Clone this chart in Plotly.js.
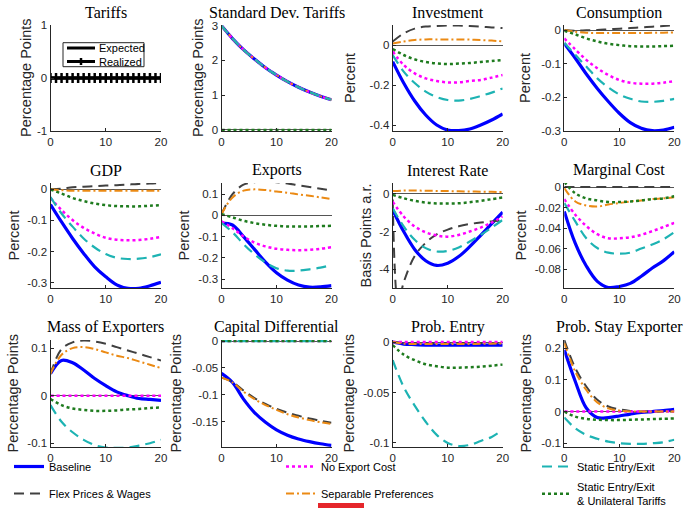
<!DOCTYPE html>
<html><head><meta charset="utf-8">
<script src="https://cdn.plot.ly/plotly-3.0.1.min.js"></script>
<style>html,body{margin:0;padding:0;background:#fff}#chart{width:693px;height:508px}</style>
</head><body><div id="chart"></div><script>
// ---------- DATA ----------
const periods = [0,2,4,6,8,10,12,14,16,18,20];
const tariffPeriods = [0,1,2,3,4,5,6,7,8,9,10,11,12,13,14,15,16,17,18,19,20];
const tariffExpected = [0,0,0,0,0,0,0,0,0,0,0,0,0,0,0,0,0,0,0,0,0];
const tariffRealized = [0,0,0,0,0,0,0,0,0,0,0,0,0,0,0,0,0,0,0,0,0];

const seriesNames = ['Baseline','Flex Prices & Wages','No Export Cost','Separable Preferences','Static Entry/Exit','Static Entry/Exit<br>& Unilateral Tariffs'];
// series order in every panel: baseline, flex, noExport, separable, static, staticUni
const stdDev = [
  [3.0,2.63,2.31,2.04,1.79,1.58,1.39,1.23,1.09,0.97,0.87],
  [3.0,2.63,2.31,2.04,1.79,1.58,1.39,1.23,1.09,0.97,0.87],
  [3.0,2.63,2.31,2.04,1.79,1.58,1.39,1.23,1.09,0.97,0.87],
  [3.0,2.63,2.31,2.04,1.79,1.58,1.39,1.23,1.09,0.97,0.87],
  [3.0,2.63,2.31,2.04,1.79,1.58,1.39,1.23,1.09,0.97,0.87],
  [0,0,0,0,0,0,0,0,0,0,0]
];
const investment = [
  [-0.083,-0.19,-0.28,-0.35,-0.40,-0.425,-0.428,-0.42,-0.40,-0.375,-0.345],
  [0.017,0.058,0.082,0.092,0.095,0.097,0.097,0.095,0.092,0.088,0.085],
  [-0.033,-0.10,-0.142,-0.167,-0.18,-0.187,-0.187,-0.18,-0.175,-0.163,-0.15],
  [0.008,0.017,0.025,0.028,0.028,0.028,0.028,0.027,0.025,0.022,0.018],
  [-0.05,-0.133,-0.19,-0.233,-0.26,-0.275,-0.278,-0.27,-0.255,-0.238,-0.217],
  [-0.02,-0.05,-0.072,-0.085,-0.092,-0.095,-0.093,-0.09,-0.085,-0.08,-0.075]
];
const consumption = [
  [-0.04,-0.084,-0.131,-0.174,-0.213,-0.248,-0.276,-0.293,-0.30,-0.298,-0.29],
  [0,-0.002,-0.001,0.0,0.002,0.004,0.006,0.008,0.01,0.012,0.014],
  [-0.025,-0.058,-0.089,-0.114,-0.134,-0.149,-0.157,-0.16,-0.16,-0.157,-0.152],
  [0,-0.005,-0.008,-0.009,-0.009,-0.009,-0.009,-0.009,-0.008,-0.008,-0.007],
  [-0.038,-0.074,-0.109,-0.144,-0.171,-0.192,-0.205,-0.213,-0.214,-0.211,-0.205],
  [-0.002,-0.013,-0.025,-0.034,-0.041,-0.045,-0.048,-0.049,-0.049,-0.048,-0.047]
];
const gdp = [
  [-0.049,-0.105,-0.158,-0.206,-0.249,-0.281,-0.307,-0.318,-0.318,-0.31,-0.299],
  [0,0.002,0.006,0.008,0.01,0.012,0.013,0.015,0.017,0.018,0.02],
  [-0.028,-0.067,-0.099,-0.124,-0.142,-0.156,-0.162,-0.164,-0.163,-0.159,-0.153],
  [0,-0.003,-0.005,-0.005,-0.005,-0.005,-0.005,-0.005,-0.005,-0.005,-0.005],
  [-0.025,-0.078,-0.12,-0.158,-0.187,-0.208,-0.22,-0.224,-0.223,-0.218,-0.209],
  [-0.001,-0.014,-0.028,-0.038,-0.046,-0.051,-0.054,-0.055,-0.055,-0.053,-0.051]
];
const exportsVals = [
  [-0.036,-0.045,-0.10,-0.16,-0.22,-0.27,-0.305,-0.328,-0.338,-0.337,-0.331],
  [0.006,0.10,0.145,0.157,0.16,0.157,0.151,0.142,0.134,0.126,0.118],
  [-0.028,-0.06,-0.099,-0.128,-0.146,-0.157,-0.162,-0.164,-0.162,-0.157,-0.15],
  [0.006,0.085,0.117,0.123,0.12,0.113,0.107,0.099,0.093,0.085,0.077],
  [-0.036,-0.079,-0.135,-0.183,-0.222,-0.249,-0.26,-0.26,-0.254,-0.246,-0.233],
  [0.006,-0.009,-0.025,-0.036,-0.044,-0.049,-0.052,-0.052,-0.052,-0.05,-0.049]
];
const interestFlexPeriods = [0,1,2,4,6,8,10,12,14,16,18,20];
const interestFlex = [-0.3,-5.8,-4.7,-3.3,-2.6,-2.15,-1.9,-1.72,-1.6,-1.52,-1.46,-1.42];
const interest = [
  [-0.85,-2.0,-2.95,-3.55,-3.8,-3.68,-3.33,-2.8,-2.2,-1.58,-0.97],
  null,
  [-0.41,-1.2,-1.73,-2.04,-2.21,-2.27,-2.18,-2.0,-1.79,-1.52,-1.2],
  [0.15,0.18,0.18,0.17,0.16,0.15,0.14,0.13,0.12,0.11,0.1],
  [-0.76,-1.73,-2.44,-2.88,-3.06,-3.03,-2.85,-2.53,-2.18,-1.79,-1.38],
  [-0.05,-0.23,-0.37,-0.46,-0.51,-0.51,-0.5,-0.44,-0.37,-0.28,-0.19]
];
const marginalCost = [
  [-0.0237,-0.055,-0.077,-0.092,-0.098,-0.097,-0.094,-0.087,-0.079,-0.072,-0.063],
  [0,0,0,0,0,0,0,0,0,0,0],
  [-0.0117,-0.027,-0.038,-0.046,-0.05,-0.05,-0.049,-0.0465,-0.043,-0.039,-0.035],
  [-0.001,-0.014,-0.018,-0.019,-0.017,-0.0156,-0.014,-0.013,-0.0117,-0.011,-0.01],
  [-0.0156,-0.0335,-0.05,-0.0595,-0.064,-0.065,-0.064,-0.06,-0.056,-0.051,-0.044],
  [0.005,-0.006,-0.011,-0.013,-0.0146,-0.0146,-0.014,-0.013,-0.0117,-0.011,-0.009]
];
const massExporters = [
  [0.046,0.074,0.069,0.054,0.036,0.021,0.008,0.0,-0.006,-0.008,-0.01],
  [0.046,0.098,0.112,0.116,0.114,0.109,0.102,0.095,0.088,0.081,0.074],
  [0,0,0,0,0,0,0,0,0,0,0],
  [0.046,0.086,0.1,0.102,0.098,0.091,0.084,0.079,0.072,0.065,0.058],
  [-0.02,-0.055,-0.077,-0.093,-0.104,-0.109,-0.11,-0.109,-0.105,-0.1,-0.093],
  [-0.007,-0.02,-0.027,-0.03,-0.032,-0.032,-0.031,-0.029,-0.028,-0.026,-0.025]
];
const capitalDiff = [
  [-0.06,-0.077,-0.108,-0.133,-0.151,-0.165,-0.175,-0.182,-0.187,-0.191,-0.194],
  [-0.068,-0.076,-0.092,-0.106,-0.117,-0.126,-0.133,-0.139,-0.144,-0.148,-0.152],
  [0,0,0,0,0,0,0,0,0,0,0],
  [-0.068,-0.077,-0.094,-0.108,-0.119,-0.128,-0.136,-0.142,-0.147,-0.151,-0.154],
  [0,0,0,0,0,0,0,0,0,0,0],
  [0,0,0,0,0,0,0,0,0,0,0]
];
const probEntry = [
  [0,-0.002,-0.0026,-0.003,-0.003,-0.003,-0.003,-0.003,-0.003,-0.003,-0.003],
  [0,-0.001,-0.0012,-0.0012,-0.0012,-0.0011,-0.001,-0.001,-0.001,-0.0009,-0.0009],
  [0,0,0,0,0,0,0,0,0,0,0],
  [0,-0.0017,-0.002,-0.002,-0.002,-0.002,-0.002,-0.0019,-0.0018,-0.0016,-0.0015],
  [-0.018,-0.0446,-0.063,-0.079,-0.092,-0.1,-0.103,-0.102,-0.098,-0.094,-0.087],
  [-0.003,-0.0125,-0.018,-0.022,-0.024,-0.0254,-0.0254,-0.025,-0.0244,-0.0234,-0.0224]
];
const probStay = [
  [0.195,0.095,0.011,-0.019,-0.019,-0.014,-0.008,-0.003,0,0.003,0.007],
  [0.226,0.137,0.079,0.037,0.016,0.007,0.002,0,0,0,0],
  [0,0,0,0,0,0,0,0,0,0,0],
  [0.216,0.126,0.068,0.029,0.01,0.003,0,0,0,0,0],
  [-0.019,-0.053,-0.074,-0.086,-0.095,-0.1,-0.102,-0.102,-0.1,-0.097,-0.089],
  [0,-0.016,-0.023,-0.026,-0.027,-0.027,-0.026,-0.025,-0.024,-0.023,-0.022]
];

const xTickVals = [0,10,20];
const xTickText = ['0','10','20'];

// ---------- LAYOUT CONSTANTS ----------
const W = 693, H = 508;
const colPx = [[50.5,161],[221.5,331.5],[392.7,502.7],[564.3,674.3]];
const rowPx = [[25,131],[183,288],[340,447]];
const titleY = [13,170,327];
const px = v => v / W;
const py = v => 1 - v / H;

const panels = [
  {title:'Tariffs', ytitle:'Percentage Points', ytx:26, range:[-1,1], tv:[-1,0,1], tt:['-1','0','1'], data:null},
  {title:'Standard Dev. Tariffs', ytitle:'Percentage Points', ytx:198, range:[-0.03,3.02], tv:[0,1,2,3], tt:['0','1','2','3'], data:stdDev},
  {title:'Investment', ytitle:'Percent', ytx:350, range:[-0.43,0.1], tv:[-0.4,-0.2,0], tt:['-0.4','-0.2','0'], data:investment},
  {title:'Consumption', ytitle:'Percent', ytx:525, range:[-0.301,0.015], tv:[-0.3,-0.2,-0.1,0], tt:['-0.3','-0.2','-0.1','0'], data:consumption},
  {title:'GDP', ytitle:'Percent', ytx:13, range:[-0.317,0.02], tv:[-0.3,-0.2,-0.1,0], tt:['-0.3','-0.2','-0.1','0'], data:gdp},
  {title:'Exports', ytitle:'Percent', ytx:183, range:[-0.342,0.153], tv:[-0.3,-0.2,-0.1,0,0.1], tt:['-0.3','-0.2','-0.1','0','0.1'], data:exportsVals},
  {title:'Interest Rate', ytitle:'Basis Points a.r.', ytx:365, range:[-5.0,0.58], tv:[-4,-2,0], tt:['-4','-2','0'], data:interest},
  {title:'Marginal Cost', ytitle:'Percent', ytx:520, range:[-0.0985,0.004], tv:[-0.08,-0.06,-0.04,-0.02,0], tt:['-0.08','-0.06','-0.04','-0.02','0'], data:marginalCost},
  {title:'Mass of Exporters', ytitle:'Percentage Points', ytx:12, range:[-0.108,0.117], tv:[-0.1,0,0.1], tt:['-0.1','0','0.1'], data:massExporters},
  {title:'Capital Differential', ytitle:'Percentage Points', ytx:175, range:[-0.197,0.002], tv:[-0.15,-0.1,-0.05,0], tt:['-0.15','-0.1','-0.05','0'], data:capitalDiff},
  {title:'Prob. Entry', ytitle:'Percentage Points', ytx:348, range:[-0.104,0.002], tv:[-0.1,-0.05,0], tt:['-0.1','-0.05','0'], data:probEntry},
  {title:'Prob. Stay Exporter', ytitle:'Percentage Points', ytx:525, range:[-0.112,0.226], tv:[-0.1,0,0.1,0.2], tt:['-0.1','0','0.1','0.2'], data:probStay}
];

const styles = [
  {color:'#0000FF', width:3.2, dash:'solid', legend:'legend'},
  {color:'#404040', width:2, dash:'10px,6px', legend:'legend'},
  {color:'#FF00FF', width:2.5, dash:'3px,3px', legend:'legend2'},
  {color:'#EB8A14', width:2, dash:'8px,3px,2px,3px', legend:'legend2'},
  {color:'#1DB3B3', width:2.2, dash:'10px,6px', legend:'legend3'},
  {color:'#1E7B1E', width:2.5, dash:'3px,3px', legend:'legend3'}
];

const tickFont = {family:'Liberation Sans, Arial, sans-serif', size:11.5, color:'#262626'};
const traces = [];
const layout = {
  width:W, height:H, margin:{l:0,r:0,t:0,b:0,autoexpand:false}, paper_bgcolor:'#fff', plot_bgcolor:'#fff',
  showlegend:true, annotations:[], shapes:[],
  font:{family:'Liberation Sans, Arial, sans-serif', color:'#262626'}
};

panels.forEach((p, i) => {
  const r = Math.floor(i/4), c = i % 4;
  const xa = i === 0 ? 'x' : 'x' + (i+1);
  const ya = i === 0 ? 'y' : 'y' + (i+1);
  const xk = i === 0 ? 'xaxis' : 'xaxis' + (i+1);
  const yk = i === 0 ? 'yaxis' : 'yaxis' + (i+1);
  layout[xk] = {
    domain:[px(colPx[c][0]), px(colPx[c][1])], anchor:ya, range:[0,20],
    tickvals:xTickVals, ticktext:xTickText, showline:true, linecolor:'#262626', linewidth:1,
    ticks:'inside', ticklen:3, tickcolor:'#262626', showgrid:false, zeroline:false,
    tickfont:tickFont, fixedrange:true, automargin:false
  };
  layout[yk] = {
    domain:[py(rowPx[r][1]), py(rowPx[r][0])], anchor:xa, range:p.range,
    tickvals:p.tv, ticktext:p.tt, showline:true, linecolor:'#262626', linewidth:1,
    ticks:'inside', ticklen:3, tickcolor:'#262626', showgrid:false,
    zeroline: i !== 0, zerolinecolor:'#555555', zerolinewidth:1,
    tickfont:tickFont, fixedrange:true, automargin:false
  };
  layout.annotations.push({
    text:p.title, xref:'paper', yref:'paper', x:px((colPx[c][0]+colPx[c][1])/2), y:py(titleY[r]),
    xanchor:'center', yanchor:'middle', showarrow:false,
    font:{family:'Liberation Serif, Times New Roman, serif', size:16, weight:'normal', color:'#000'}
  });
  layout.annotations.push({
    text:p.ytitle, xref:'paper', yref:'paper', x:px(p.ytx), y:py((rowPx[r][0]+rowPx[r][1])/2),
    xanchor:'center', yanchor:'middle', showarrow:false, textangle:-90,
    font:{family:'Liberation Sans, Arial, sans-serif', size:14.5, color:'#262626'}
  });

  if (i === 0) {
    traces.push({x:tariffPeriods, y:tariffExpected, xaxis:xa, yaxis:ya, mode:'lines', name:'Expected',
      line:{color:'#000', width:3}, showlegend:false, hoverinfo:'skip'});
    traces.push({x:tariffPeriods, y:tariffRealized, xaxis:xa, yaxis:ya, mode:'lines+markers', name:'Realized',
      line:{color:'#000', width:3}, marker:{symbol:'cross-thin', size:7, line:{color:'#000', width:2.5}},
      showlegend:false, hoverinfo:'skip'});
    return;
  }
  p.data.forEach((vals, s) => {
    let xs = periods, ys = vals;
    if (vals === null) { xs = interestFlexPeriods; ys = interestFlex; }
    const st = styles[s];
    traces.push({
      x:xs, y:ys, xaxis:xa, yaxis:ya, mode:'lines', name:seriesNames[s],
      line:{color:st.color, width:st.width, dash:st.dash, shape:'spline', smoothing:1},
      legend:st.legend, legendgroup:'g'+s, showlegend: i === 1, hoverinfo:'skip'
    });
  });
});

const legFont = {family:'Liberation Sans, Arial, sans-serif', size:11, color:'#000'};
layout.legend  = {x:px(9),   xanchor:'left', y:py(452), yanchor:'top', font:legFont, bgcolor:'rgba(0,0,0,0)', tracegroupgap:8, borderwidth:0};
layout.legend2 = {x:px(281), xanchor:'left', y:py(452), yanchor:'top', font:legFont, bgcolor:'rgba(0,0,0,0)', tracegroupgap:8, borderwidth:0};
layout.legend3 = {x:px(537), xanchor:'left', y:py(452), yanchor:'top', font:legFont, bgcolor:'rgba(0,0,0,0)', tracegroupgap:2, borderwidth:0};

// Tariffs mini legend (drawn as decoration)
layout.shapes.push({type:'rect', xref:'paper', yref:'paper', x0:px(63), x1:px(144), y0:py(66.7), y1:py(42.7),
  line:{color:'#262626', width:1}, fillcolor:'#fff', layer:'above'});
layout.shapes.push({type:'line', xref:'paper', yref:'paper', x0:px(67), x1:px(95), y0:py(48), y1:py(48),
  line:{color:'#000', width:3}, layer:'above'});
layout.shapes.push({type:'line', xref:'paper', yref:'paper', x0:px(67), x1:px(95), y0:py(61.5), y1:py(61.5),
  line:{color:'#000', width:3}, layer:'above'});
layout.shapes.push({type:'line', xref:'paper', yref:'paper', x0:px(81), x1:px(81), y0:py(58), y1:py(65),
  line:{color:'#000', width:2.5}, layer:'above'});
layout.annotations.push({text:'Expected', xref:'paper', yref:'paper', x:px(96.5), y:py(48), xanchor:'left', yanchor:'middle',
  showarrow:false, font:{family:'Liberation Sans, Arial, sans-serif', size:11, color:'#000'}});
layout.annotations.push({text:'Realized', xref:'paper', yref:'paper', x:px(96.5), y:py(61.5), xanchor:'left', yanchor:'middle',
  showarrow:false, font:{family:'Liberation Sans, Arial, sans-serif', size:11, color:'#000'}});
// red tab at bottom edge
layout.shapes.push({type:'rect', xref:'paper', yref:'paper', x0:px(318), x1:px(364), y0:py(520), y1:py(503),
  line:{width:0}, fillcolor:'#E5262B', layer:'above'});

Plotly.newPlot('chart', traces, layout, {staticPlot:true, displayModeBar:false});
</script></body></html>
